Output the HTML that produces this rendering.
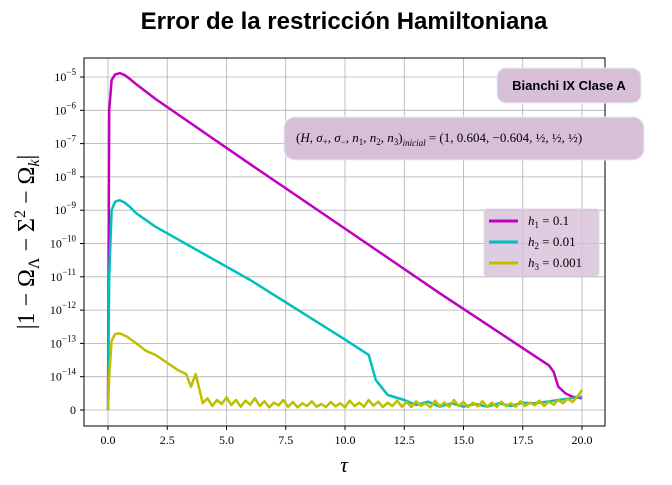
<!DOCTYPE html>
<html><head><meta charset="utf-8"><style>
body{margin:0;background:#fff;}
svg text{font-family:"Liberation Serif",serif;}
</style></head><body>
<svg id="chart" width="672" height="480" viewBox="0 0 672 480" xmlns="http://www.w3.org/2000/svg">
<text x="344" y="29" text-anchor="middle" style="font-family:'Liberation Sans',sans-serif;font-weight:bold;font-size:24px">Error de la restricción Hamiltoniana</text>
<g id="grid"></g>
<g id="series"></g>
<rect x="84" y="58" width="521" height="368" fill="none" stroke="#000" stroke-width="1"/>
<g id="ticks"></g>
<text x="344" y="472" text-anchor="middle" font-style="italic" font-size="22">τ</text>
<text transform="translate(34,242) rotate(-90)" text-anchor="middle" font-size="24">|1 − Ω<tspan font-size="16" dy="5">Λ</tspan><tspan dy="-5"> − Σ</tspan><tspan font-size="16" dy="-9">2</tspan><tspan dy="9"> − Ω</tspan><tspan font-size="16" font-style="italic" dy="5">k</tspan><tspan dy="-5">|</tspan></text>
<g>
<rect x="497" y="68" width="144" height="35" rx="9" fill="#d8bfd8" stroke="#e0f0f8" stroke-width="1"/>
<text x="569" y="90" text-anchor="middle" style="font-family:'Liberation Sans',sans-serif;font-weight:bold;font-size:13px">Bianchi IX Clase A</text>
</g>
<g>
<rect x="284" y="117" width="360" height="43" rx="11" fill="#d8bfd8" stroke="#e0f0f8" stroke-width="1"/>
<text x="296" y="142" font-size="13">(<tspan font-style="italic">H, σ</tspan><tspan font-size="9" dy="3">+</tspan><tspan dy="-3" font-style="italic">, σ</tspan><tspan font-size="9" dy="3">−</tspan><tspan dy="-3" font-style="italic">, n</tspan><tspan font-size="9" dy="3">1</tspan><tspan dy="-3" font-style="italic">, n</tspan><tspan font-size="9" dy="3">2</tspan><tspan dy="-3" font-style="italic">, n</tspan><tspan font-size="9" dy="3">3</tspan><tspan dy="-3">)</tspan><tspan font-size="9" font-style="italic" dy="4">inicial</tspan><tspan dy="-4"> = (1, 0.604, −0.604, ½, ½, ½)</tspan></text>
</g>
<g>
<rect x="484" y="209" width="115" height="67" rx="3" fill="#d8bfd8" fill-opacity="0.8" stroke="#ddd"/>
<g><line x1="489" y1="221" x2="518" y2="221" stroke="#bf00bf" stroke-width="3"/><text x="528" y="225" font-size="13"><tspan font-style="italic">h</tspan><tspan font-size="9" dy="3">1</tspan><tspan dy="-3"> = 0.1</tspan></text></g>
<g><line x1="489" y1="242" x2="518" y2="242" stroke="#00bfbf" stroke-width="3"/><text x="528" y="246" font-size="13"><tspan font-style="italic">h</tspan><tspan font-size="9" dy="3">2</tspan><tspan dy="-3"> = 0.01</tspan></text></g>
<g><line x1="489" y1="263" x2="518" y2="263" stroke="#bfbf00" stroke-width="3"/><text x="528" y="267" font-size="13"><tspan font-style="italic">h</tspan><tspan font-size="9" dy="3">3</tspan><tspan dy="-3"> = 0.001</tspan></text></g>
</g>
</svg>
<script>
const xTicks=[0,2.5,5,7.5,10,12.5,15,17.5,20];
const xTickLabels=["0.0","2.5","5.0","7.5","10.0","12.5","15.0","17.5","20.0"];
const yTickExps=[-14,-13,-12,-11,-10,-9,-8,-7,-6,-5];
const tau1=[0,0.05,0.15,0.3,0.5,0.7,0.9,1.2,2,6,10,14,18.6,18.8,19,19.3,19.6,20];
const val1=[0,1e-6,8e-6,1.2e-5,1.3e-5,1.15e-5,9e-6,6e-6,2.2e-6,2.4e-8,2.8e-10,3.2e-12,2.2e-14,1.4e-14,7e-15,5e-15,4e-15,3.5e-15];
const tau2=[0,0.05,0.15,0.3,0.5,0.7,0.9,1.2,2,6,10,11,11.3,11.8,12.5,13,13.5,14,14.5,15,15.5,16,16.5,17,17.5,18,18.5,19,19.5,20];
const val2=[0,1e-11,1e-9,1.8e-9,2e-9,1.7e-9,1.3e-9,8e-10,3.2e-10,8e-12,1.3e-13,4.5e-14,9e-15,4.5e-15,3e-15,1.5e-15,2.5e-15,1e-15,2e-15,1e-15,1.8e-15,1e-15,2e-15,1.2e-15,2.2e-15,2e-15,2.5e-15,3e-15,3.5e-15,4e-15];
const tau3=[0,0.05,0.15,0.3,0.5,0.8,1.2,1.6,2,2.5,3,3.3,3.5,3.7,3.9,4,4.2,4.4,4.6,4.8,5,5.2,5.4,5.6,5.8,6,6.2,6.4,6.6,6.8,7,7.2,7.4,7.6,7.8,8,8.2,8.4,8.6,8.8,9,9.2,9.4,9.6,9.8,10,10.2,10.4,10.6,10.8,11,11.2,11.4,11.6,11.8,12,12.2,12.4,12.6,12.8,13,13.2,13.4,13.6,13.8,14,14.2,14.4,14.6,14.8,15,15.2,15.4,15.6,15.8,16,16.2,16.4,16.6,16.8,17,17.2,17.4,17.6,17.8,18,18.2,18.4,18.6,18.8,19,19.2,19.4,19.6,19.8,20];
const val3=[0,1e-14,1.2e-13,1.9e-13,2e-13,1.6e-13,1e-13,6e-14,4.5e-14,2.6e-14,1.5e-14,1.2e-14,7e-15,1.2e-14,5e-15,2e-15,3.5e-15,1.2e-15,3e-15,1.8e-15,3.8e-15,1.5e-15,3e-15,1e-15,2.8e-15,1.6e-15,3.5e-15,1.2e-15,2.6e-15,0.8e-15,2.2e-15,1.4e-15,3e-15,1e-15,2.4e-15,0.8e-15,2e-15,1.2e-15,2.6e-15,1e-15,1.8e-15,0.9e-15,2.4e-15,1.1e-15,2e-15,0.8e-15,2.8e-15,1.2e-15,2.2e-15,1e-15,3e-15,1.3e-15,2.5e-15,0.9e-15,2.2e-15,1.2e-15,2.8e-15,1e-15,2.4e-15,0.9e-15,2.6e-15,1.3e-15,2e-15,0.8e-15,2.8e-15,1.1e-15,2.2e-15,1e-15,3e-15,1.2e-15,2.4e-15,0.9e-15,2.2e-15,1.1e-15,2.6e-15,1e-15,2.2e-15,0.9e-15,2.5e-15,1.2e-15,2e-15,1e-15,2.6e-15,1.2e-15,2.2e-15,1.4e-15,2.8e-15,1.2e-15,2.5e-15,1.6e-15,3e-15,2e-15,3.4e-15,2.4e-15,4e-15,6e-15];
const NS="http://www.w3.org/2000/svg";
const X0=84,X1=605,Y0=58,Y1=426;
function xs(t){return 108+(t/20)*474;}
function ys(v){const lt=1e-14;let p=v<=lt?v/lt:1+Math.log10(v/lt);return 410-p*33.3;}
function mk(tag,attrs,parent){const e=document.createElementNS(NS,tag);for(const k in attrs)e.setAttribute(k,attrs[k]);parent.appendChild(e);return e;}
const grid=document.getElementById('grid'),ticks=document.getElementById('ticks'),series=document.getElementById('series');
xTicks.forEach((t,i)=>{const x=xs(t);
 const g=mk('line',{x1:x,x2:x,y1:Y0,y2:Y1,stroke:'#b0b0b0','stroke-width':0.8},grid);
 
 
 mk('line',{x1:x,x2:x,y1:Y1,y2:Y1+4,stroke:'#000'},ticks);
 const l=mk('text',{x:x,y:Y1+18,'text-anchor':'middle','font-size':12},ticks);l.textContent=xTickLabels[i];
 
 });
function yTick(y,html){const g=mk('line',{x1:X0,x2:X1,y1:y,y2:y,stroke:'#b0b0b0','stroke-width':0.8},grid);
 
 
 mk('line',{x1:X0-4,x2:X0,y1:y,y2:y,stroke:'#000'},ticks);
 const l=mk('text',{x:X0-8,y:y+4,'text-anchor':'end','font-size':12},ticks);l.innerHTML=html;
 
 }
yTick(ys(0),'0');
yTickExps.forEach(e=>yTick(ys(Math.pow(10,e)),'10<tspan font-size="9" dy="-6">'+(e<0?'−'+(-e):e)+'</tspan>'));
function line(ts,vs,c,name){const d=ts.map((t,i)=>(i?'L':'M')+xs(t).toFixed(1)+','+ys(vs[i]).toFixed(1)).join('');
 const p=mk('path',{d:d,fill:'none',stroke:c,'stroke-width':2.5,'stroke-linejoin':'round'},series);
 
 }
line(tau1,val1,'#bf00bf','series-h1');
line(tau2,val2,'#00bfbf','series-h2');
line(tau3,val3,'#bfbf00','series-h3');
</script>
</body></html>
